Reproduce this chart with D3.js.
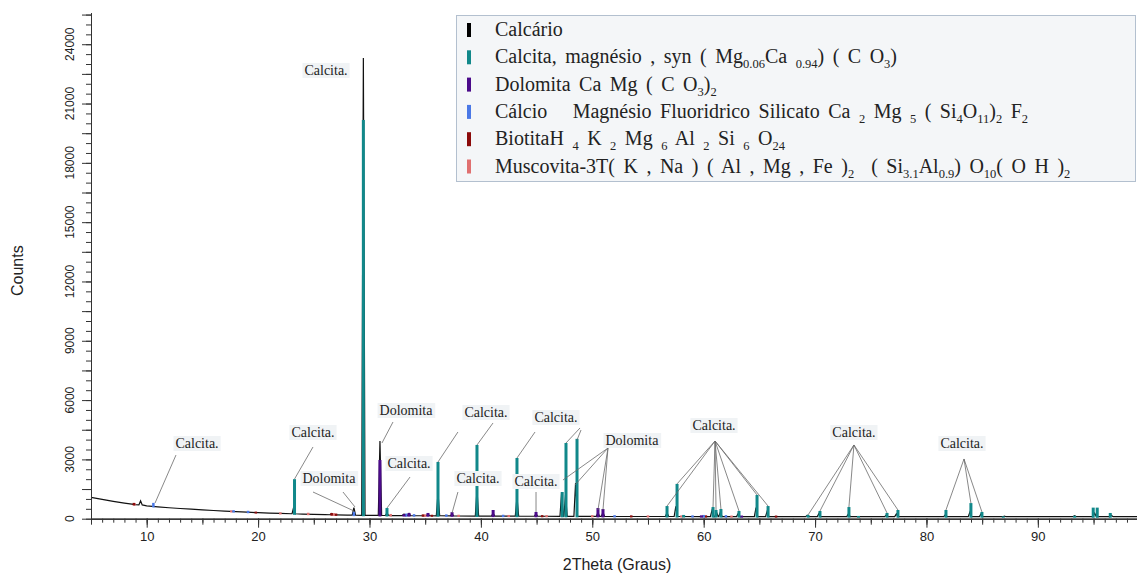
<!DOCTYPE html>
<html lang="pt">
<head>
<meta charset="UTF-8">
<title>DRX - Calcário</title>
<script src="https://d3js.org/d3.v7.min.js"></script>
<style>
  body { margin: 0; background: #fff; }
  svg text { font-family: "Liberation Sans", Arial, sans-serif; fill: #222; }
  svg text.serif { font-family: "Liberation Serif", "Times New Roman", serif; white-space: pre; }
</style>
</head>
<body>
<svg width="1137" height="573"></svg>
<script>
// eixos
const xDominio = [5, 98.9];
const yDominio = [0, 25600];
const yRotulos = [0, 3000, 6000, 9000, 12000, 15000, 18000, 21000, 24000];
const xRotulos = [10, 20, 30, 40, 50, 60, 70, 80, 90];

// padrão medido (Calcário): fundo [2θ, contagens]
const fundo = [[5,1080],[6,980],[7,880],[8,790],[9,710],[10,650],[11,600],[12,555],[13,515],[14,480],
  [15,450],[16,415],[17,385],[18,355],[19,330],[20,305],[21,285],[22,265],[23,250],[24,235],[25,220],
  [26,205],[27,195],[28,185],[30,170],[32,160],[35,150],[40,135],[45,125],[50,118],[55,112],[60,108],
  [70,104],[80,102],[90,100],[98.9,100]];
// picos medidos [2θ, topo, base]
const picos = [[9.45,900,700],[23.2,600,250],[26.6,260,200],[28.6,560,180],[29.45,23300,170],
  [30.94,3930,165],[31.57,300,163],[33.1,230,158],[33.55,260,157],[35.25,230,150],[36.15,1300,148],
  [37.41,250,145],[39.65,1450,135],[41.1,280,132],[43.24,1100,128],[44.95,260,125],[47.25,1350,120],
  [47.6,1200,120],[48.5,1800,118],[50.51,300,118],[50.96,320,117],[56.71,300,112],[57.5,620,111],
  [60.75,420,108],[61.15,330,108],[61.5,330,108],[63.1,260,107],[64.7,560,106],[65.7,380,106],
  [69.3,170,104],[70.35,260,104],[73.0,250,103],[76.4,190,103],[77.3,240,103],[81.7,200,102],
  [83.9,330,102],[84.9,240,102],[87.0,130,101],[93.3,150,100],[95.1,280,100],[96.6,170,100]];

// fases de referência [2θ, contagens]
const calcita = [[23.27,2000],[29.45,20170],[31.57,540],[36.15,2870],[39.65,3730],[43.24,3070],
  [47.3,1350],[47.64,3830],[48.63,4040],[56.71,640],[57.61,1760],[58.2,190],[60.84,590],[61.11,440],
  [61.55,490],[63.17,390],[64.79,1200],[65.78,640],[69.37,190],[70.44,390],[73.04,590],[73.9,140],
  [76.46,290],[77.44,440],[81.75,440],[83.99,790],[84.98,340],[86.9,120],[93.3,150],[94.97,560],
  [95.33,560],[96.5,290]];
const dolomita = [[30.94,2970],[33.1,230],[33.55,290],[35.25,290],[37.41,330],[41.1,440],[44.95,340],
  [50.51,540],[50.96,490],[59.8,170],[63.4,160]];
const silicato = [[10.6,800],[17.8,430],[19.1,400],[28.6,350],[33.3,260],[34.0,230],[36.9,220],
  [42.0,200],[52.0,180],[59.0,170],[60.0,190],[62.0,180]];
const biotita = [[8.85,800],[19.8,360],[26.6,290],[27.0,260],[34.8,220],[35.6,200],[45.5,180],
  [53.5,170],[60.2,170],[66.5,160]];
const muscovita = [[8.9,790],[17.6,420],[22.0,320],[24.5,300],[26.8,280],[31.9,240],[35.0,220],
  [38.0,200],[42.5,190],[45.9,180],[50.0,180],[55.0,170],[58.0,170],[62.5,160]];

// legenda
const legendaTextos = [
  "Calcário",
  "Calcita, magnésio , syn ( Mg_{0.06}Ca _{0.94}) ( C O_{3})",
  "Dolomita Ca Mg ( C O_{3})_{2}",
  "Cálcio   Magnésio Fluoridrico Silicato Ca _{2} Mg _{5} ( Si_{4}O_{11})_{2} F_{2}",
  "BiotitaH _{4} K _{2} Mg _{6} Al _{2} Si _{6} O_{24}",
  "Muscovita-3T( K , Na ) ( Al , Mg , Fe )_{2}  ( Si_{3.1}Al_{0.9}) O_{10}( O H )_{2}"
];
const legendaCores = ["#000000", "#11888a", "#4b0a8a", "#4a78e6", "#8b0a0a", "#e07070"];

// anotações: texto, centro [2θ, contagens], linhas [[de],[para]]
const anotacoes = [
  ["Calcita.", [26.1, 22700], []],
  ["Calcita.", [14.52, 3830], [[[12.63, 3220], [10.75, 794]]]],
  ["Calcita.", [24.93, 4385], [[[24.93, 3627], [23.27, 2008]]]],
  ["Dolomita", [26.36, 2059], [[[24.93, 1350], [28.61, 389]], [[27.62, 1350], [28.70, 592]]]],
  ["Dolomita", [33.28, 5498], [[[32.11, 4891], [31.12, 3829]]]],
  ["Calcita.", [33.55, 2817], [[[33.64, 2109], [31.57, 541]]]],
  ["Calcita.", [40.46, 5397], [[[37.94, 4385], [36.15, 2868]], [[41.09, 4841], [39.65, 3728]]]],
  ["Calcita.", [39.74, 2059], [[[37.94, 1350], [37.41, 288]]]],
  ["Calcita.", [46.74, 5144], [[[44.86, 4385], [43.24, 3070]], [[48.9, 4588], [47.64, 3829]], [[48.99, 4486], [48.63, 3981]]]],
  ["Calcita.", [44.95, 1907], [[[44.95, 1350], [44.95, 339]]]],
  ["Dolomita", [53.56, 3981], [[[51.41, 3576], [47.37, 1957]], [[51.41, 3576], [48.45, 1705]], [[51.41, 3576], [50.51, 440]], [[51.41, 3576], [50.96, 440]]]],
  ["Calcita.", [60.93, 4739], [56.71, 57.61, 60.84, 61.11, 61.55, 63.17, 64.79, 65.78].map(t => [[61.02, 3930], [t, 0]])],
  ["Calcita.", [73.49, 4385], [69.37, 70.44, 73.04, 76.46, 77.44].map(t => [[73.49, 3728], [t, 0]])],
  ["Calcita.", [83.19, 3829], [81.75, 83.99, 84.98].map(t => [[83.37, 3020], [t, 0]])]
];

const svg = d3.select("svg");
const x = d3.scaleLinear().domain(xDominio).range([91, 1137]);
const y = d3.scaleLinear().domain(yDominio).range([518.7, 12.6]);
// nível do fundo, usado como pé das barras
const nivelFundo = d3.scaleLinear().domain(fundo.map(d => d[0])).range(fundo.map(d => d[1]));

// linha medida: fundo + picos
const largura = 0.15;
const pontos = fundo.filter(p => !picos.some(k => Math.abs(p[0] - k[0]) <= largura));
picos.forEach(k => {
  pontos.push([k[0] - largura, k[2]], [k[0], k[1]], [k[0] + largura, k[2]]);
});
pontos.sort((a, b) => a[0] - b[0]);

svg.append("path")
  .datum(pontos)
  .attr("fill", "none")
  .attr("stroke", "#111")
  .attr("stroke-width", 1.2)
  .attr("d", d3.line().x(d => x(d[0])).y(d => y(d[1])));

// barras das fases
const fases = [[muscovita, legendaCores[5], 2.5], [biotita, legendaCores[4], 2.5], [silicato, legendaCores[3], 2.5],
  [dolomita, legendaCores[2], 3], [calcita, legendaCores[1], 3]];
fases.forEach(([dados, cor, w]) => {
  svg.append("g").selectAll("rect")
    .data(dados)
    .enter().append("rect")
    .attr("x", d => x(d[0]) - w / 2)
    .attr("y", d => y(d[1]))
    .attr("width", w)
    .attr("height", d => Math.max(1, y(nivelFundo(d[0])) - y(d[1]) + 1))
    .attr("fill", cor);
});

// topo das barras da calcita, alvo das linhas de anotação
const topoCalcita = new Map(calcita.map(d => [d[0], d[1]]));

// anotações
const gAnot = svg.append("g");
anotacoes.forEach(([txt, c, linhas]) => {
  linhas.forEach(([a, b]) => {
    const bv = b[1] === 0 ? (topoCalcita.get(b[0]) || 200) : b[1];
    gAnot.append("line")
      .attr("x1", x(a[0])).attr("y1", y(a[1]))
      .attr("x2", x(b[0])).attr("y2", y(bv))
      .attr("stroke", "#6a6a6a").attr("stroke-width", 0.8);
  });
  const t = gAnot.append("text")
    .attr("class", "serif")
    .attr("x", x(c[0])).attr("y", y(c[1]) + 5)
    .attr("text-anchor", "middle")
    .attr("font-size", 14)
    .text(txt);
  const bb = t.node().getBBox();
  gAnot.insert("rect", () => t.node())
    .attr("x", bb.x - 2).attr("y", bb.y)
    .attr("width", bb.width + 4).attr("height", bb.height)
    .attr("fill", "#f0f3f5");
});

// eixo x
const gx = svg.append("g").attr("transform", `translate(0,${y(0)})`);
gx.append("g").call(d3.axisBottom(x).tickValues(d3.range(5, 99, 1)).tickSize(4).tickSizeOuter(0))
  .call(g => g.selectAll("text").remove());
gx.append("g").call(d3.axisBottom(x).tickValues(d3.range(5, 99, 5)).tickSize(6).tickSizeOuter(0))
  .call(g => g.selectAll("text").remove());
gx.append("g").call(d3.axisBottom(x).tickValues(xRotulos).tickSize(9).tickSizeOuter(0).tickPadding(4));
gx.selectAll("path,line").attr("stroke", "#333");
gx.selectAll("text").attr("font-size", 13).attr("font-family", "Liberation Sans, Arial, sans-serif").attr("fill", "#222");

// eixo y
const gy = svg.append("g").attr("transform", `translate(${x(xDominio[0])},0)`);
gy.append("g").call(d3.axisLeft(y).tickValues(d3.range(0, 25600, 500)).tickSize(5).tickSizeOuter(0));
gy.append("g").call(d3.axisLeft(y).tickValues(d3.range(0, 25600, 1500)).tickSize(9).tickSizeOuter(0));
gy.selectAll("path,line").attr("stroke", "#333");
gy.selectAll("text").remove();
svg.append("g").selectAll("text")
  .data(yRotulos)
  .enter().append("text")
  .attr("transform", d => `translate(74,${y(d)}) rotate(-90)`)
  .attr("text-anchor", "middle")
  .attr("font-size", 12)
  .text(d => d);

// títulos
svg.append("text")
  .attr("transform", `translate(23,${(y(0) + y(yDominio[1])) / 2 + 5}) rotate(-90)`)
  .attr("text-anchor", "middle")
  .attr("font-size", 16)
  .text("Counts");
svg.append("text")
  .attr("x", 617).attr("y", 570)
  .attr("text-anchor", "middle")
  .attr("font-size", 16)
  .text("2Theta (Graus)");

// legenda
const gLeg = svg.append("g");
gLeg.append("rect")
  .attr("x", 456.5).attr("y", 15.5).attr("width", 679).attr("height", 166)
  .attr("fill", "#f4f6f8").attr("stroke", "#b3c0cf");
legendaTextos.forEach((txt, i) => {
  const cy = 30 + i * 27.3;
  gLeg.append("rect")
    .attr("x", 467).attr("y", cy - 7).attr("width", 4).attr("height", 14)
    .attr("fill", legendaCores[i]);
  const t = gLeg.append("text")
    .attr("class", "serif")
    .attr("x", 495).attr("y", cy + 6)
    .attr("font-size", 20)
    .attr("word-spacing", 3.5);
  let desce = 0;
  txt.split(/(_\{[^}]*\})/).forEach(parte => {
    if (!parte) return;
    const m = parte.match(/^_\{([^}]*)\}$/);
    if (m) {
      t.append("tspan").attr("font-size", 12.5).attr("dy", 5 - desce).text(m[1]);
      desce = 5;
    } else {
      t.append("tspan").attr("dy", -desce).text(parte);
      desce = 0;
    }
  });
});
</script>
</body>
</html>
